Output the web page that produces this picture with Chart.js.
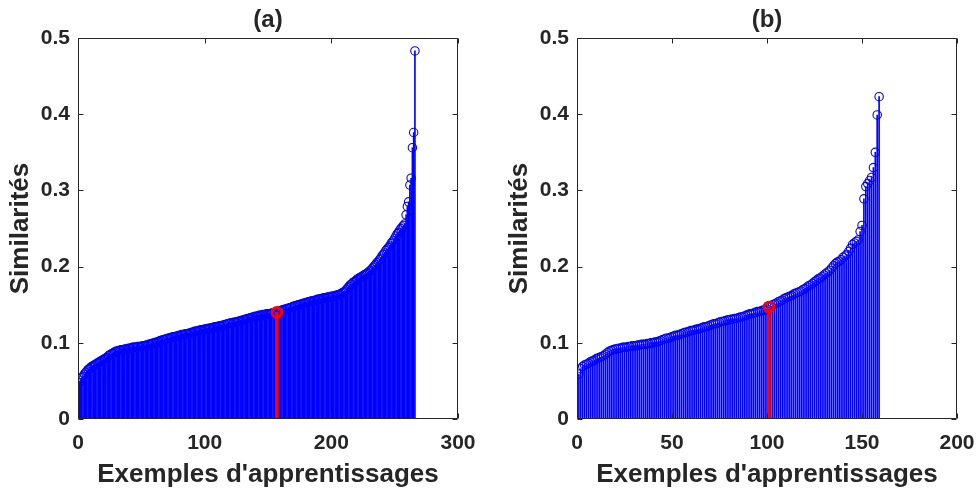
<!DOCTYPE html>
<html>
<head>
<meta charset="utf-8">
<script src="https://cdn.jsdelivr.net/npm/chart.js@4.4.1/dist/chart.umd.min.js"></script>
<style>
  html, body { margin: 0; padding: 0; background: #fff; overflow: hidden; }
  .panel { position: absolute; top: 0; }
  #wrapA { left: 0; width: 488px; height: 493px; }
  #wrapB { left: 499px; width: 477px; height: 493px; }
</style>
</head>
<body>
<div class="panel" id="wrapA"><canvas id="chartA" width="488" height="493"></canvas></div>
<div class="panel" id="wrapB"><canvas id="chartB" width="477" height="493"></canvas></div>
<script>
// (a) sorted similarities, one per training example
const similaritesA = [
    0.048, 0.051, 0.054, 0.056, 0.059, 0.061, 0.063, 0.065, 0.066, 0.068,
    0.069, 0.070, 0.071, 0.072, 0.073, 0.074, 0.075, 0.076, 0.077, 0.078,
    0.079, 0.080, 0.081, 0.083, 0.084, 0.085, 0.086, 0.087, 0.088, 0.089,
    0.089, 0.090, 0.090, 0.091, 0.091, 0.091, 0.092, 0.092, 0.092, 0.093,
    0.093, 0.093, 0.094, 0.094, 0.094, 0.094, 0.095, 0.095, 0.095, 0.095,
    0.096, 0.096, 0.096, 0.097, 0.097, 0.098, 0.098, 0.099, 0.099, 0.100,
    0.100, 0.101, 0.101, 0.102, 0.103, 0.103, 0.104, 0.104, 0.105, 0.105,
    0.106, 0.106, 0.107, 0.107, 0.108, 0.108, 0.108, 0.109, 0.109, 0.110,
    0.110, 0.111, 0.111, 0.111, 0.112, 0.112, 0.112, 0.113, 0.113, 0.114,
    0.114, 0.115, 0.115, 0.115, 0.116, 0.116, 0.117, 0.117, 0.117, 0.118,
    0.118, 0.118, 0.119, 0.119, 0.119, 0.120, 0.120, 0.121, 0.121, 0.121,
    0.122, 0.122, 0.122, 0.123, 0.123, 0.124, 0.124, 0.125, 0.125, 0.126,
    0.126, 0.126, 0.127, 0.127, 0.127, 0.128, 0.128, 0.129, 0.129, 0.130,
    0.130, 0.131, 0.131, 0.132, 0.132, 0.133, 0.133, 0.134, 0.134, 0.135,
    0.135, 0.135, 0.136, 0.136, 0.136, 0.137, 0.137, 0.137, 0.138, 0.138,
    0.138, 0.138, 0.139, 0.139, 0.139, 0.140, 0.140, 0.141, 0.142, 0.142,
    0.143, 0.143, 0.144, 0.144, 0.145, 0.145, 0.146, 0.146, 0.147, 0.148,
    0.148, 0.149, 0.149, 0.150, 0.150, 0.151, 0.151, 0.152, 0.152, 0.153,
    0.153, 0.154, 0.154, 0.155, 0.155, 0.155, 0.156, 0.156, 0.157, 0.157,
    0.157, 0.158, 0.158, 0.159, 0.159, 0.159, 0.160, 0.160, 0.160, 0.161,
    0.161, 0.161, 0.162, 0.162, 0.163, 0.163, 0.164, 0.165, 0.166, 0.167,
    0.168, 0.170, 0.172, 0.174, 0.176, 0.177, 0.179, 0.180, 0.181, 0.183,
    0.184, 0.185, 0.186, 0.187, 0.188, 0.189, 0.190, 0.191, 0.192, 0.194,
    0.195, 0.197, 0.199, 0.201, 0.203, 0.205, 0.207, 0.209, 0.211, 0.214,
    0.216, 0.218, 0.221, 0.223, 0.225, 0.227, 0.230, 0.232, 0.234, 0.237,
    0.240, 0.243, 0.245, 0.248, 0.250, 0.252, 0.254, 0.256, 0.268, 0.279,
    0.285, 0.307, 0.316, 0.356, 0.376, 0.483
];

// (b)
const similaritesB = [
    0.059, 0.066, 0.069, 0.071, 0.072, 0.073, 0.075, 0.076, 0.077, 0.079,
    0.080, 0.081, 0.082, 0.083, 0.085, 0.087, 0.089, 0.090, 0.091, 0.092,
    0.092, 0.093, 0.093, 0.094, 0.094, 0.094, 0.095, 0.095, 0.096, 0.096,
    0.096, 0.097, 0.097, 0.098, 0.098, 0.098, 0.099, 0.099, 0.100, 0.100,
    0.101, 0.101, 0.102, 0.103, 0.104, 0.105, 0.106, 0.106, 0.107, 0.108,
    0.109, 0.110, 0.110, 0.111, 0.112, 0.113, 0.114, 0.114, 0.115, 0.116,
    0.116, 0.117, 0.118, 0.118, 0.119, 0.120, 0.121, 0.121, 0.122, 0.123,
    0.124, 0.125, 0.125, 0.126, 0.127, 0.128, 0.128, 0.129, 0.130, 0.130,
    0.131, 0.131, 0.132, 0.132, 0.133, 0.134, 0.134, 0.135, 0.136, 0.137,
    0.138, 0.138, 0.139, 0.140, 0.141, 0.141, 0.142, 0.143, 0.143, 0.144,
    0.147, 0.148, 0.150, 0.151, 0.152, 0.154, 0.155, 0.156, 0.158, 0.159,
    0.160, 0.161, 0.162, 0.164, 0.165, 0.166, 0.167, 0.168, 0.170, 0.171,
    0.173, 0.175, 0.176, 0.178, 0.180, 0.182, 0.184, 0.185, 0.187, 0.189,
    0.191, 0.193, 0.195, 0.198, 0.201, 0.204, 0.206, 0.207, 0.209, 0.212,
    0.214, 0.216, 0.220, 0.224, 0.229, 0.231, 0.233, 0.235, 0.246, 0.254,
    0.289, 0.305, 0.309, 0.313, 0.317, 0.330, 0.350, 0.399, 0.423
];

// highlighted example (1-based index) in red
const selectedA = 157;
const selectedB = 101;

const yTicks = [0, 0.1, 0.2, 0.3, 0.4, 0.5];
const xTicksA = [0, 100, 200, 300];
const xTicksB = [0, 50, 100, 150, 200];
const titleA = '(a)';
const titleB = '(b)';
const xLabel = "Exemples d'apprentissages";
const yLabel = 'Similarités';

const FONT = '"Liberation Sans", Arial, Helvetica, sans-serif';
const INK = '#262626';
const CLEAR = 'rgba(0,0,0,0)';

Chart.defaults.font.family = FONT;
Chart.defaults.color = INK;

// matlab-ish box with inward ticks on all four sides
const boxTicks = {
    id: 'boxTicks',
    afterDatasetsDraw(chart) {
        const { ctx, chartArea: a, scales } = chart;
        const len = 5;
        const l = Math.round(a.left) + 0.5;
        const r = Math.round(a.right) - 0.5;
        const t = Math.round(a.top) + 0.5;
        const b = Math.round(a.bottom) - 0.5;
        ctx.save();
        ctx.strokeStyle = INK;
        ctx.lineWidth = 1;
        ctx.beginPath();
        ctx.rect(l, t, r - l, b - t);
        scales.x.ticks.forEach((tk) => {
            const px = Math.round(scales.x.getPixelForValue(tk.value)) + 0.5;
            ctx.moveTo(px, b);
            ctx.lineTo(px, b - len);
            ctx.moveTo(px, t);
            ctx.lineTo(px, t + len);
        });
        scales.y.ticks.forEach((tk) => {
            const py = Math.round(scales.y.getPixelForValue(tk.value)) + 0.5;
            ctx.moveTo(l, py);
            ctx.lineTo(l + len, py);
            ctx.moveTo(r, py);
            ctx.lineTo(r - len, py);
        });
        ctx.stroke();
        ctx.restore();
    },
};

function buildPanel(canvasId, values, selected, xTicks, title, padRight) {
    const stems = values.map((v, i) => ({ x: i + 1, y: v }));
    const picked = [{ x: selected, y: values[selected - 1] }];
    const xMax = xTicks[xTicks.length - 1];

    return new Chart(document.getElementById(canvasId), {
        type: 'bar',
        data: {
            datasets: [
                {
                    type: 'scatter',
                    data: picked,
                    order: 0,
                    pointRadius: 4.8,
                    borderColor: '#ff0000',
                    borderWidth: 3,
                    backgroundColor: CLEAR,
                },
                {
                    type: 'bar',
                    data: picked,
                    order: 1,
                    backgroundColor: '#ff0000',
                    barThickness: 3,
                    grouped: false,
                },
                {
                    type: 'scatter',
                    data: stems,
                    order: 2,
                    pointRadius: 4.2,
                    borderColor: '#0000ff',
                    borderWidth: 1.1,
                    backgroundColor: CLEAR,
                },
                {
                    type: 'bar',
                    data: stems,
                    order: 3,
                    backgroundColor: '#0000ff',
                    barThickness: 1,
                    grouped: false,
                },
            ],
        },
        options: {
            responsive: false,
            animation: false,
            devicePixelRatio: 1,
            events: [],
            layout: { padding: { left: 0, right: padRight, top: 0, bottom: 0 } },
            plugins: {
                legend: { display: false },
                tooltip: { enabled: false },
                title: { display: false },
            },
            scales: {
                x: {
                    type: 'linear',
                    position: 'bottom',
                    min: 0,
                    max: xMax,
                    offset: false,
                    // invisible tick marks just push the labels down
                    grid: { display: true, drawOnChartArea: false, drawTicks: true, tickLength: 11.5, color: CLEAR, offset: false },
                    border: { display: false },
                    afterBuildTicks: (s) => { s.ticks = xTicks.map((v) => ({ value: v })); },
                    ticks: {
                        font: { size: 21, weight: 'bold' },
                        color: INK,
                        padding: 0,
                        maxRotation: 0,
                        autoSkip: false,
                    },
                    title: {
                        display: true,
                        text: xLabel,
                        font: { size: 26, weight: 'bold' },
                        color: INK,
                        padding: { top: 0, bottom: 3 },
                    },
                    afterFit: (s) => { s.height = 74; },
                },
                top: {
                    type: 'linear',
                    position: 'top',
                    min: 0,
                    max: xMax,
                    offset: false,
                    grid: { display: false, offset: false },
                    border: { display: false },
                    ticks: { display: false },
                    title: {
                        display: true,
                        text: title,
                        font: { size: 24, weight: 'bold' },
                        color: INK,
                        padding: { top: 6, bottom: 0 },
                    },
                    afterFit: (s) => { s.height = 38; },
                },
                y: {
                    type: 'linear',
                    position: 'left',
                    min: 0,
                    max: 0.5,
                    grid: { display: true, drawOnChartArea: false, drawTicks: true, tickLength: 8, color: CLEAR },
                    border: { display: false },
                    afterBuildTicks: (s) => { s.ticks = yTicks.map((v) => ({ value: v })); },
                    ticks: {
                        font: { size: 21, weight: 'bold' },
                        color: INK,
                        padding: 0,
                    },
                    title: {
                        display: true,
                        text: yLabel,
                        font: { size: 26, weight: 'bold' },
                        color: INK,
                        padding: { top: 5, bottom: 0 },
                    },
                    afterFit: (s) => { s.width = 78; },
                },
            },
        },
        plugins: [boxTicks],
    });
}

const chartA = buildPanel('chartA', similaritesA, selectedA, xTicksA, titleA, 30);
const chartB = buildPanel('chartB', similaritesB, selectedB, xTicksB, titleB, 19);
</script>
</body>
</html>
